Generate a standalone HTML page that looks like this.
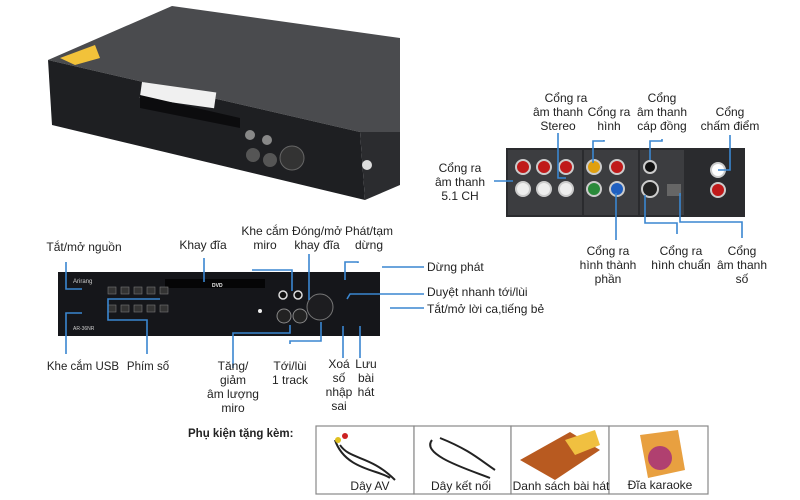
<!DOCTYPE html>
<html><head><meta charset="utf-8"><style>
body{margin:0;width:800px;height:500px;background:#fff;overflow:hidden;font-family:"Liberation Sans",sans-serif;}
svg{position:absolute;left:0;top:0}
.t{font-size:12px;fill:#222;font-family:"Liberation Sans","DejaVu Sans",sans-serif}
.l{stroke:#3a86d0;stroke-width:1.6;fill:none}
</style></head><body>
<svg width="800" height="500" viewBox="0 0 800 500">
<!-- 3D player -->
<polygon points="48,60 172,6 400,38 400,132 360,132" fill="#4a4b4e"/>
<polygon points="48,60 360,132 365,200 52,125" fill="#1e1f22"/>
<polygon points="360,132 400,132 400,185 365,200" fill="#2b2c2f"/>
<polygon points="60,58 95,45 100,58 75,65" fill="#f2c23a"/>
<rect x="142" y="82" width="75" height="16" fill="#f0f0f0" transform="rotate(8 142 82)"/>
<polygon points="140,95 240,118 240,128 140,108" fill="#0c0c0e"/>
<circle cx="250" cy="135" r="5" fill="#888"/><circle cx="267" cy="140" r="5" fill="#888"/>
<circle cx="253" cy="155" r="7" fill="#555"/><circle cx="270" cy="160" r="7" fill="#555"/>
<circle cx="292" cy="158" r="12" fill="#333" stroke="#666"/>
<circle cx="367" cy="165" r="5" fill="#ddd"/>
<!-- rear panel -->
<rect x="506" y="148" width="239" height="69" fill="#2a2b2e"/>
<rect x="508" y="150" width="74" height="65" fill="#3c3d40"/><rect x="584" y="150" width="54" height="65" fill="#3c3d40"/><rect x="640" y="150" width="44" height="65" fill="#3c3d40"/>
<g stroke="#ccc" stroke-width="2">
<circle cx="523" cy="167" r="7" fill="#c01a1a"/><circle cx="544" cy="167" r="7" fill="#c01a1a"/><circle cx="566" cy="167" r="7" fill="#c01a1a"/>
<circle cx="523" cy="189" r="7" fill="#eee"/><circle cx="544" cy="189" r="7" fill="#eee"/><circle cx="566" cy="189" r="7" fill="#eee"/>
<circle cx="594" cy="167" r="7" fill="#e0a010"/><circle cx="617" cy="167" r="7" fill="#c01a1a"/>
<circle cx="594" cy="189" r="7" fill="#2a8a3a"/><circle cx="617" cy="189" r="7" fill="#1f5fc0"/>
<circle cx="650" cy="167" r="6" fill="#111"/><circle cx="650" cy="189" r="8" fill="#222"/>
<circle cx="718" cy="170" r="7" fill="#fff"/><circle cx="718" cy="190" r="7" fill="#c01a1a"/>
</g>
<rect x="667" y="184" width="14" height="12" fill="#666"/>
<!-- front panel -->
<rect x="58" y="272" width="322" height="64" fill="#15161a"/>
<rect x="165" y="279" width="100" height="9" fill="#050506"/>
<g fill="#333" stroke="#777" stroke-width="0.6">
<rect x="108" y="287" width="8" height="7"/><rect x="121" y="287" width="8" height="7"/><rect x="134" y="287" width="8" height="7"/><rect x="147" y="287" width="8" height="7"/><rect x="160" y="287" width="8" height="7"/>
<rect x="108" y="305" width="8" height="7"/><rect x="121" y="305" width="8" height="7"/><rect x="134" y="305" width="8" height="7"/><rect x="147" y="305" width="8" height="7"/><rect x="160" y="305" width="8" height="7"/>
</g>
<circle cx="283" cy="295" r="4" fill="#111" stroke="#ddd" stroke-width="1.5"/><circle cx="298" cy="295" r="4" fill="#111" stroke="#ddd" stroke-width="1.5"/>
<circle cx="284" cy="316" r="7" fill="#222" stroke="#888"/><circle cx="300" cy="316" r="7" fill="#222" stroke="#888"/>
<circle cx="320" cy="307" r="13" fill="#1d1d20" stroke="#777"/>
<circle cx="260" cy="311" r="2" fill="#eee"/>
<text x="73" y="283" font-size="6" fill="#ccc">Arirang</text>
<text x="73" y="330" font-size="5" fill="#ccc">AR-36NR</text>
<text x="212" y="287" font-size="5" fill="#eee" font-weight="bold">DVD</text>
<!-- front lines -->
<g class="l">
<polyline points="66,262 66,289 82,289"/><polyline points="66,354 66,313 82,313"/>
<polyline points="147,354 147,320 108,320 108,299 160,299"/>
<line x1="204" y1="258" x2="204" y2="282"/>
<polyline points="252,270 292,270 292,291"/>
<line x1="309" y1="254" x2="309" y2="300"/>
<polyline points="358,263 358,262 345,262 345,280"/>
<line x1="382" y1="267" x2="424" y2="267"/>
<polyline points="347,299 350,294 390,294 424,294"/>
<line x1="390" y1="308" x2="424" y2="308"/>
<polyline points="233,368 233,333 290,333 290,325"/>
<polyline points="290,344 290,341 321,341 321,322"/>
<line x1="343" y1="358" x2="343" y2="326"/><line x1="360" y1="358" x2="360" y2="326"/>
</g>
<!-- rear lines -->
<g class="l">
<line x1="494" y1="181" x2="513" y2="181"/>
<polyline points="558,133 558,178 566,178"/>
<polyline points="604,140 604,141 593,141 593,163"/>
<polyline points="662,139 662,141 650,141 650,160"/>
<polyline points="730,135 730,170 718,170"/>
<line x1="616" y1="240" x2="616" y2="193"/>
<polyline points="677,234 677,223 645,223 645,195"/>
<polyline points="742,238 742,222 680,222 680,193"/>
</g>
<!-- labels -->
<g class="t" text-anchor="middle">
<text x="84" y="251">Tắt/mở nguồn</text>
<text x="203" y="249">Khay đĩa</text>
<text x="265" y="235">Khe cắm</text><text x="265" y="249">miro</text>
<text x="317" y="235">Đóng/mở</text><text x="317" y="249">khay đĩa</text>
<text x="369" y="235">Phát/tạm</text><text x="369" y="249">dừng</text>
<text x="83" y="370" font-size="11.5">Khe cắm USB</text><text x="148" y="370" font-size="11.5">Phím số</text>
<text x="233" y="370">Tăng/</text><text x="233" y="384">giảm</text><text x="233" y="398">âm lượng</text><text x="233" y="412">miro</text>
<text x="290" y="370">Tới/lùi</text><text x="290" y="384">1 track</text>
<text x="339" y="368">Xoá</text><text x="339" y="382">số</text><text x="339" y="396">nhập</text><text x="339" y="410">sai</text>
<text x="366" y="368">Lưu</text><text x="366" y="382">bài</text><text x="366" y="396">hát</text>
<text x="566" y="102">Cổng ra</text><text x="558" y="116">âm thanh</text><text x="558" y="130">Stereo</text>
<text x="609" y="116">Cổng ra</text><text x="609" y="130">hình</text>
<text x="662" y="102">Cổng</text><text x="662" y="116">âm thanh</text><text x="662" y="130">cáp đồng</text>
<text x="730" y="116">Cổng</text><text x="730" y="130">chấm điểm</text>
<text x="460" y="172">Cổng ra</text><text x="460" y="186">âm thanh</text><text x="460" y="200">5.1 CH</text>
<text x="608" y="255">Cổng ra</text><text x="608" y="269">hình thành</text><text x="608" y="283">phần</text>
<text x="681" y="255">Cổng ra</text><text x="681" y="269">hình chuẩn</text>
<text x="742" y="255">Cổng</text><text x="742" y="269">âm thanh</text><text x="742" y="283">số</text>
</g>
<g class="t">
<text x="427" y="271">Dừng phát</text>
<text x="427" y="296">Duyệt nhanh tới/lùi</text>
<text x="427" y="313">Tắt/mở lời ca,tiếng bẻ</text>
<text x="188" y="437" font-weight="bold" font-size="11.5">Phụ kiện tặng kèm:</text>
</g>
<!-- accessories -->
<g fill="#fff" stroke="#888" stroke-width="1.2">
<rect x="316" y="426" width="98" height="68"/><rect x="414" y="426" width="97" height="68"/><rect x="511" y="426" width="98" height="68"/><rect x="609" y="426" width="99" height="68"/>
</g>
<path d="M335,440 C345,470 380,470 390,478 M340,445 C350,460 370,455 395,480" stroke="#222" stroke-width="2" fill="none"/>
<circle cx="338" cy="440" r="3" fill="#e0c020"/><circle cx="345" cy="436" r="3" fill="#c22"/>
<path d="M432,440 C420,455 470,470 490,478 M440,438 C470,450 480,460 495,470" stroke="#222" stroke-width="2" fill="none"/>
<polygon points="520,460 570,432 600,450 555,480" fill="#b85a20"/><polygon points="565,440 595,430 600,445 575,455" fill="#f0c040"/>
<polygon points="640,435 678,430 685,470 648,478" fill="#e8a040"/><circle cx="660" cy="458" r="12" fill="#b04070"/>
<g class="t" text-anchor="middle" font-size="11.5">
<text x="370" y="490">Dây AV</text><text x="461" y="490">Dây kết nối</text><text x="561" y="490">Danh sách bài hát</text><text x="660" y="489">Đĩa karaoke</text>
</g>
</svg>
</body></html>
